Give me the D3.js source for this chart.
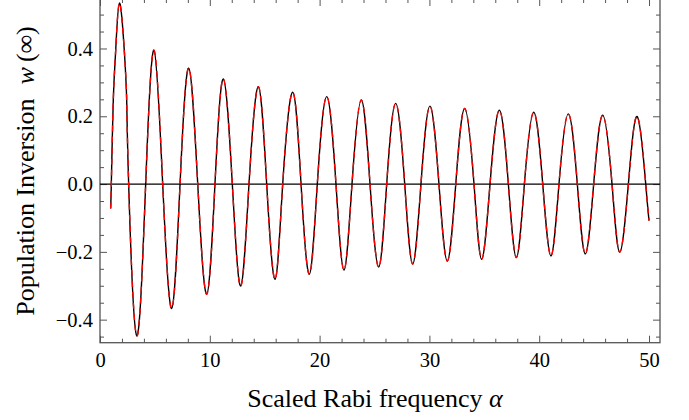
<!DOCTYPE html>
<meta charset="utf-8">
<style>
    body { margin: 0; background: #fff; }
    svg { display: block; }
    .axisLabel {
        font-family: "Liberation Serif", "Times New Roman", serif;
        font-size: 26px;
        fill: #000;
    }
</style>
<body>
<script src="https://d3js.org/d3.v7.min.js"></script>
<script>
    // page and frame
    let width = 689;
    let height = 420;
    let frameLeft = 100, frameRight = 660, frameTop = -1, frameBottom = 342.7;

    // curve: extrema, zero crossings and a few shoulder points
    let alpha = [0.97, 1.03, 1.21, 1.43, 1.77, 2.21, 2.43, 2.61, 3.34, 4.16,
                 4.92, 5.71, 6.53, 7.29, 8.08, 8.90, 9.72, 10.47, 11.23, 12.05,
                 12.81, 13.57, 14.42, 15.18, 15.94, 16.64, 17.55, 18.31, 19.06, 19.79,
                 20.65, 21.49, 22.22, 22.95, 23.80, 24.59, 25.38, 26.11, 26.93, 27.75,
                 28.48, 29.23, 30.05, 30.87, 31.63, 32.40, 33.21, 34.06, 34.76, 35.52,
                 36.37, 37.19, 37.92, 38.65, 39.50, 40.32, 41.07, 41.80, 42.65, 43.47,
                 44.20, 44.96, 45.78, 46.63, 47.33, 48.12, 48.93, 49.70, 50.0];
    let inversion = [-0.072, 0.0, 0.248, 0.395, 0.534, 0.395, 0.248, 0.0, -0.447, 0.0,
                     0.395, 0.0, -0.367, 0.0, 0.342, 0.0, -0.325, 0.0, 0.310, 0.0,
                     -0.301, 0.0, 0.287, 0.0, -0.281, 0.0, 0.271, 0.0, -0.266, 0.0,
                     0.258, 0.0, -0.254, 0.0, 0.248, 0.0, -0.245, 0.0, 0.238, 0.0,
                     -0.236, 0.0, 0.230, 0.0, -0.227, 0.0, 0.223, 0.0, -0.222, 0.0,
                     0.218, 0.0, -0.217, 0.0, 0.212, 0.0, -0.212, 0.0, 0.207, 0.0,
                     -0.206, 0.0, 0.203, 0.0, -0.201, 0.0, 0.199, 0.0, -0.108];

    // ticks
    let xMajorTicks = [0, 10, 20, 30, 40, 50];
    let xTickLabels = ["0", "10", "20", "30", "40", "50"];
    let xMinorTicks = [2, 4, 6, 8, 12, 14, 16, 18, 22, 24, 26, 28, 32, 34, 36, 38, 42, 44, 46, 48];
    let yMajorTicks = [-0.4, -0.2, 0, 0.2, 0.4];
    let yTickLabels = ["\u22120.4", "\u22120.2", "0.0", "0.2", "0.4"];
    let yMinorTicks = [-0.45, -0.35, -0.3, -0.25, -0.15, -0.1, -0.05, 0.05, 0.1, 0.15, 0.25, 0.3, 0.35, 0.45, 0.5];

    let frameColor = "#555";

    let svg = d3.select("body").append("svg")
        .attr("width", width)
        .attr("height", height);

    let x = d3.scaleLinear().domain([0, 51]).range([frameLeft, frameRight]);
    let y = d3.scaleLinear().domain([-0.468, 0.546]).range([frameBottom, frameTop]);

    function styleAxis(g) {
        g.select(".domain").remove();
        g.selectAll(".tick line").attr("stroke", frameColor).attr("stroke-width", 1);
        g.selectAll(".tick text")
            .style("font-family", "'Liberation Serif', 'Times New Roman', serif")
            .style("font-size", "20.5px")
            .style("fill", "#000");
    }

    // minor ticks, all four sides
    svg.append("g").attr("transform", "translate(0," + frameBottom + ")")
        .call(d3.axisBottom(x).tickValues(xMinorTicks).tickSizeInner(-4).tickSizeOuter(0).tickFormat(""))
        .call(styleAxis);
    svg.append("g").attr("transform", "translate(0," + frameTop + ")")
        .call(d3.axisTop(x).tickValues(xMinorTicks).tickSizeInner(-4).tickSizeOuter(0).tickFormat(""))
        .call(styleAxis);
    svg.append("g").attr("transform", "translate(" + frameLeft + ",0)")
        .call(d3.axisLeft(y).tickValues(yMinorTicks).tickSizeInner(-4).tickSizeOuter(0).tickFormat(""))
        .call(styleAxis);
    svg.append("g").attr("transform", "translate(" + frameRight + ",0)")
        .call(d3.axisRight(y).tickValues(yMinorTicks).tickSizeInner(-4).tickSizeOuter(0).tickFormat(""))
        .call(styleAxis);

    // major ticks with labels
    svg.append("g")
        .attr("transform", "translate(0," + frameBottom + ")")
        .call(d3.axisBottom(x).tickValues(xMajorTicks).tickSizeInner(-7).tickSizeOuter(0)
            .tickPadding(10).tickFormat(function(d, i) { return xTickLabels[i]; }))
        .call(styleAxis);
    svg.append("g").attr("transform", "translate(0," + frameTop + ")")
        .call(d3.axisTop(x).tickValues(xMajorTicks).tickSizeInner(-7).tickSizeOuter(0).tickFormat(""))
        .call(styleAxis);
    svg.append("g")
        .attr("transform", "translate(" + frameLeft + ",0)")
        .call(d3.axisLeft(y).tickValues(yMajorTicks).tickSizeInner(-7).tickSizeOuter(0)
            .tickPadding(7).tickFormat(function(d, i) { return yTickLabels[i]; }))
        .call(styleAxis);
    svg.append("g").attr("transform", "translate(" + frameRight + ",0)")
        .call(d3.axisRight(y).tickValues(yMajorTicks).tickSizeInner(-7).tickSizeOuter(0).tickFormat(""))
        .call(styleAxis);

    // frame
    svg.append("rect")
        .attr("x", frameLeft).attr("y", frameTop)
        .attr("width", frameRight - frameLeft).attr("height", frameBottom - frameTop)
        .attr("fill", "none").attr("stroke", frameColor).attr("stroke-width", 1.3);

    // zero axis
    svg.append("line")
        .attr("x1", x(0)).attr("x2", x(51))
        .attr("y1", y(0)).attr("y2", y(0))
        .attr("stroke", "#000").attr("stroke-width", 1.2);

    // curve: black solid with red dashed on top
    svg.append("clipPath").attr("id", "plotClip")
        .append("rect")
        .attr("x", frameLeft).attr("y", frameTop)
        .attr("width", frameRight - frameLeft).attr("height", frameBottom - frameTop);

    let points = alpha.map(function(a, i) { return [a, inversion[i]]; });
    let line = d3.line()
        .x(function(d) { return x(d[0]); })
        .y(function(d) { return y(d[1]); })
        .curve(d3.curveNatural);

    let curveG = svg.append("g").attr("clip-path", "url(#plotClip)");
    curveG.append("path")
        .attr("d", line(points))
        .attr("fill", "none")
        .attr("stroke", "#000")
        .attr("stroke-width", 1.4);
    curveG.append("path")
        .attr("d", line(points))
        .attr("fill", "none")
        .attr("stroke", "#f00")
        .attr("stroke-width", 1.4)
        .attr("stroke-dasharray", "6,5");

    // axis titles
    let xTitle = svg.append("text")
        .attr("class", "axisLabel")
        .attr("x", 375).attr("y", 407)
        .attr("text-anchor", "middle");
    xTitle.append("tspan").text("Scaled Rabi frequency ");
    xTitle.append("tspan").attr("font-style", "italic").text("\u03b1");

    let yTitle = svg.append("text")
        .attr("class", "axisLabel")
        .attr("transform", "translate(34,171) rotate(-90)")
        .attr("text-anchor", "middle");
    yTitle.append("tspan").text("Population Inversion");
    yTitle.append("tspan").attr("dx", 14).attr("font-style", "italic").text("w");
    yTitle.append("tspan").attr("dx", 5).text("(\u221e)");
</script>
</body>
